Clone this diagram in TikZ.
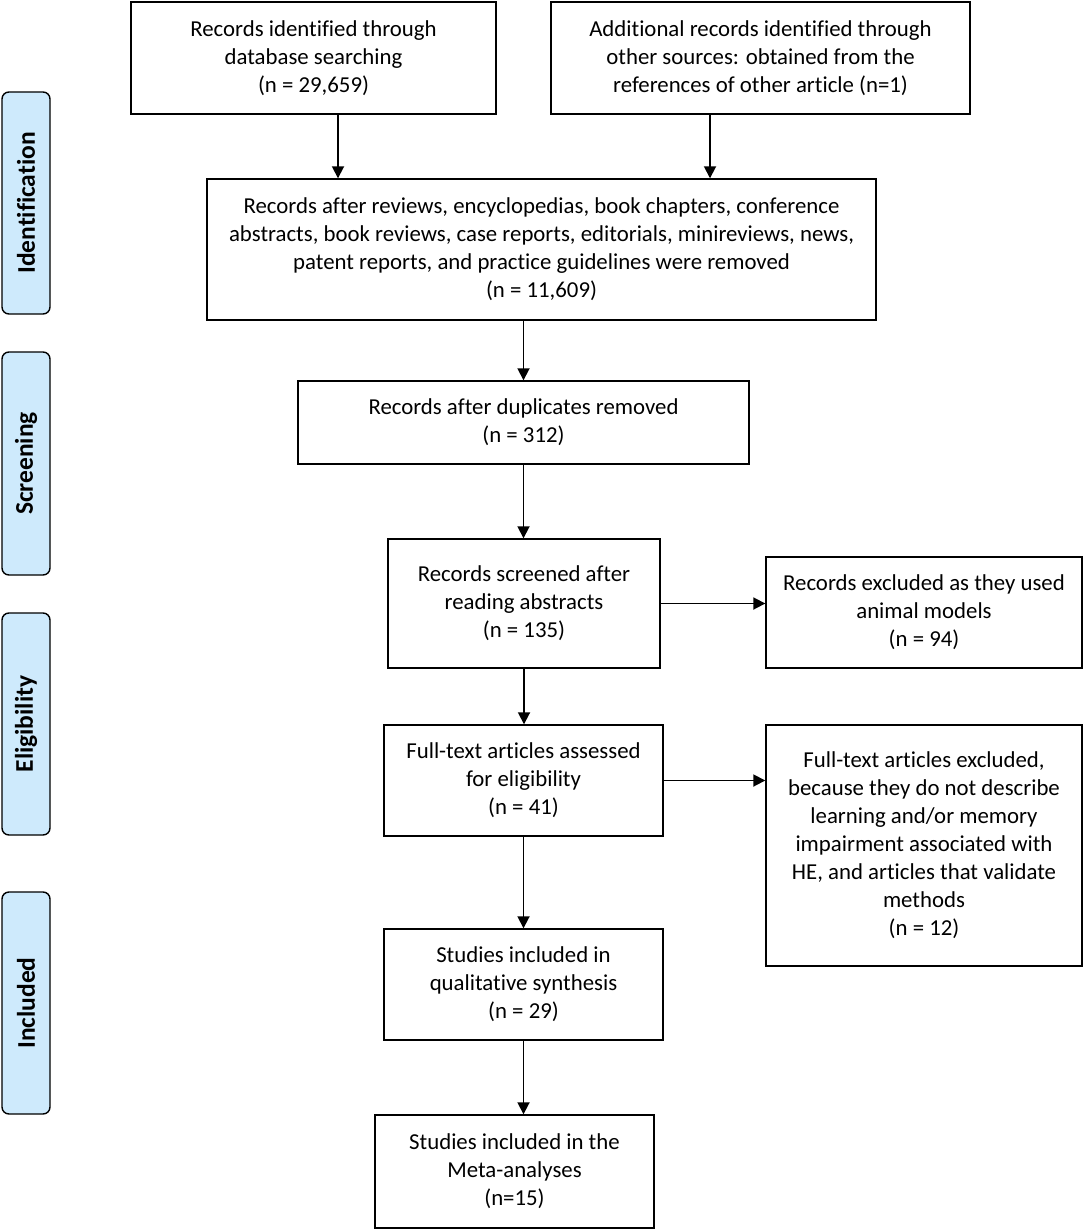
\documentclass[tikz,border=0pt]{standalone}
\usepackage{fontspec}
\setmainfont{Carlito}[Ligatures=NoCommon]
\usetikzlibrary{arrows.meta}
\definecolor{stagefill}{RGB}{206,234,252}
\begin{document}
\begin{tikzpicture}[x=1pt,y=-1pt,
  box/.style={draw, line width=1.4pt, align=center, inner sep=0pt, font=\fontsize{22.8}{28}\selectfont},
  stage/.style={draw, line width=1.4pt, fill=stagefill, rounded corners=7pt, minimum width=48pt, font=\fontsize{25.5}{28}\selectfont\bfseries},
  arr/.style={line width=1.8pt, -{Triangle[length=12pt,width=12pt]}}]
\useasboundingbox (0,0) rectangle (1084,1230);
% stage labels
\node[stage, minimum height=222pt] (s1) at (26,203) {\rotatebox{90}{Identification}};
\node[stage, minimum height=223pt] (s2) at (26,463.5) {\rotatebox{90}{Screening}};
\node[stage, minimum height=222pt] (s3) at (26,724) {\rotatebox{90}{Eligibility}};
\node[stage, minimum height=222pt] (s4) at (26,1003) {\rotatebox{90}{Included}};
% boxes
\node[box, minimum width=365pt, minimum height=112pt] (A) at (313.5,58) {Records identified through\\database searching\\(n = 29,659)};
\node[box, minimum width=419pt, minimum height=112pt] (B) at (760.5,58) {Additional records identified through\\other sources: obtained from the\\references of other article (n=1)};
\node[box, minimum width=669pt, minimum height=141pt] (C) at (541.5,249.5) {Records after reviews, encyclopedias, book chapters, conference\\abstracts, book reviews, case reports, editorials, minireviews, news,\\patent reports, and practice guidelines were removed\\(n = 11,609)};
\node[box, minimum width=451pt, minimum height=83pt] (D) at (523.5,422.5) {Records after duplicates removed\\(n = 312)};
\node[box, minimum width=272pt, minimum height=129pt] (E) at (524,603.5) {Records screened after\\reading abstracts\\(n = 135)};
\node[box, minimum width=316pt, minimum height=111pt] (F) at (924,612.5) {Records excluded as they used\\animal models\\(n = 94)};
\node[box, minimum width=279pt, minimum height=111pt] (G) at (523.5,780.5) {Full-text articles assessed\\for eligibility\\(n = 41)};
\node[box, minimum width=316pt, minimum height=241pt] (H) at (924,845.5) {Full-text articles excluded,\\because they do not describe\\learning and/or memory\\impairment associated with\\HE, and articles that validate\\methods\\(n = 12)};
\node[box, minimum width=279pt, minimum height=111pt] (I) at (523.5,984.5) {Studies included in\\qualitative synthesis\\(n = 29)};
\node[box, minimum width=279pt, minimum height=113pt] (J) at (514.5,1171.5) {Studies included in the\\Meta-analyses\\(n=15)};
% connectors
\coordinate (aOut) at ([xshift=24.5pt]A.south);
\coordinate (bOut) at ([xshift=-50.5pt]B.south);
\draw[arr] (aOut) -- (aOut |- C.north);
\draw[arr] (bOut) -- (bOut |- C.north);
\draw[arr] (C.south -| D.north) -- (D.north);
\draw[arr] (D.south) -- (D.south |- E.north);
\draw[arr] (E.east) -- (E.east -| F.west);
\draw[arr] (E.south) -- (E.south |- G.north);
\draw[arr] (G.east) -- (G.east -| H.west);
\draw[arr] (G.south) -- (G.south |- I.north);
\draw[arr] (I.south) -- (I.south |- J.north);
\end{tikzpicture}
\end{document}
